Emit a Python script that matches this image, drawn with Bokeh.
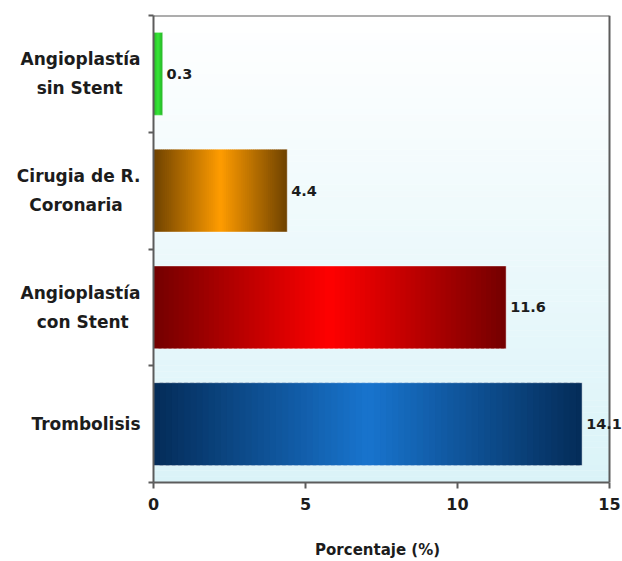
from bokeh.plotting import figure
from bokeh.models import Range1d, FixedTicker, LinearAxis, LabelSet, ColumnDataSource
from bokeh.core.properties import value
from bokeh.embed import file_html
from bokeh.resources import INLINE

# Data (bottom to top)
categories = ["Trombolisis", "Angioplastía\ncon Stent", "Cirugia de R.\nCoronaria", "Angioplastía\nsin Stent"]
values = [14.1, 11.6, 4.4, 0.3]
value_labels = ["14.1", "11.6", "4.4", "0.3"]
x_ticks = [0, 5, 10, 15]
x_max = 15
x_title = "Porcentaje (%)"

# Colour of each bar: (edge colour, centre colour) of its horizontal shading
bar_edge = [(4, 44, 88), (115, 0, 0), (110, 66, 0), (0, 170, 0)]
bar_centre = [(24, 116, 206), (255, 0, 0), (255, 156, 0), (20, 225, 20)]

# Non-breaking spaces appended to the second line of each name so the
# right-aligned axis labels read as centred lines
second_line_pad = [0, 2, 3, 3]
# Non-breaking spaces after the x title, pulling it back under the chart box
title_pad = 4

FONT = "DejaVu Sans"
TEXT = "#1c1c1c"
FRAME = "#5c5c5c"
NBSP = "\u00a0"


def mix(a, b, t):
    return "#%02x%02x%02x" % tuple(int(round(a[k] + (b[k] - a[k]) * t)) for k in range(3))


def centred(name, pad):
    lines = name.split("\n")
    if len(lines) > 1:
        lines[-1] = lines[-1] + NBSP * pad
    return "\n".join(lines)


n_cat = len(categories)
y_pos = [i + 0.5 for i in range(n_cat)]

# The frame runs a little past x_max so the last value label has room;
# the visible chart box (shading + border) stops at x_max.
px_per_unit = 456 / x_max
left_px, right_px = 153, 0
x_end = (622 - left_px - right_px) / px_per_unit

p = figure(width=622, height=561,
           x_range=Range1d(0, x_end), y_range=Range1d(0, n_cat),
           output_backend="svg", toolbar_location=None,
           min_border_left=left_px, min_border_right=right_px,
           min_border_top=15, min_border_bottom=78)

p.background_fill_color = "white"
p.border_fill_color = "white"
p.outline_line_color = None
p.xgrid.visible = False
p.ygrid.visible = False

# Plot-area shading: white at the top fading to pale cyan at the bottom
n_bg = 80
top_c = (255, 255, 255)
bot_c = (218, 243, 248)
bg_bottom, bg_top, bg_col = [], [], []
for k in range(n_bg):
    bg_bottom.append(n_cat * k / n_bg)
    bg_top.append(min(n_cat * (k + 1.05) / n_bg, n_cat))
    bg_col.append(mix(bot_c, top_c, (k + 0.5) / n_bg))
p.quad(left=0, right=x_max, bottom=bg_bottom, top=bg_top, fill_color=bg_col, line_color=None)

# Top and right edges of the chart box
p.segment(x0=[0, x_max], y0=[n_cat, 0], x1=[x_max, x_max], y1=[n_cat, n_cat],
          line_color=FRAME, line_width=2)

# Bars drawn as thin slices so that each one is dark at both ends and bright in the middle
n_sl = 70
bar_h = 0.71
sl_left, sl_right, sl_y, sl_col = [], [], [], []
for v, y, e, c in zip(values, y_pos, bar_edge, bar_centre):
    for k in range(n_sl):
        t = (k + 0.5) / n_sl
        sl_left.append(v * k / n_sl)
        sl_right.append(min(v * (k + 1.6) / n_sl, v))
        sl_y.append(y)
        sl_col.append(mix(e, c, 1 - abs(2 * t - 1)))
p.hbar(y=sl_y, left=sl_left, right=sl_right, height=bar_h, fill_color=sl_col, line_color=None)
p.hbar(y=y_pos, left=0, right=values, height=bar_h, fill_color=None,
       line_color="white", line_alpha=0.45, line_width=1)

# Value labels to the right of each bar
src = ColumnDataSource(dict(x=values, y=y_pos, t=value_labels))
p.add_layout(LabelSet(x="x", y="y", text="t", source=src, x_offset=4,
                      text_baseline="middle", text_font=value(FONT),
                      text_font_style="bold", text_font_size=value("14.5px"),
                      text_color=TEXT))

# X axis
p.xaxis.ticker = FixedTicker(ticks=x_ticks)
p.xaxis.bounds = (0, x_max)
p.xaxis.minor_tick_line_color = None
p.xaxis.major_tick_in = 0
p.xaxis.major_tick_out = 6
p.xaxis.axis_line_color = FRAME
p.xaxis.axis_line_width = 2
p.xaxis.major_tick_line_color = FRAME
p.xaxis.major_tick_line_width = 2
p.xaxis.major_label_standoff = 9
p.xaxis.major_label_text_font = FONT
p.xaxis.major_label_text_font_style = "bold"
p.xaxis.major_label_text_font_size = "16px"
p.xaxis.major_label_text_color = TEXT
p.xaxis.axis_label = x_title + NBSP * title_pad
p.xaxis.axis_label_standoff = 28
p.xaxis.axis_label_text_font = FONT
p.xaxis.axis_label_text_font_style = "bold"
p.xaxis.axis_label_text_font_size = "15px"
p.xaxis.axis_label_text_color = TEXT

# Y axis: ticks on the category boundaries
p.yaxis.ticker = FixedTicker(ticks=list(range(n_cat + 1)))
p.yaxis.minor_tick_line_color = None
p.yaxis.major_tick_in = 0
p.yaxis.major_tick_out = 5
p.yaxis.axis_line_color = FRAME
p.yaxis.axis_line_width = 2
p.yaxis.major_tick_line_color = FRAME
p.yaxis.major_tick_line_width = 2
p.yaxis.major_label_standoff = 0
p.yaxis.major_label_text_font_size = "0px"
p.yaxis.major_label_text_color = None

# Category names, one per bar centre
cat_axis = LinearAxis(ticker=FixedTicker(ticks=y_pos),
                      major_label_overrides={y: centred(name, pad) for y, name, pad
                                             in zip(y_pos, categories, second_line_pad)},
                      axis_line_color=None, major_tick_line_color=None,
                      minor_tick_line_color=None, major_tick_in=0, major_tick_out=0,
                      major_label_standoff=8,
                      major_label_text_font=FONT, major_label_text_font_style="bold",
                      major_label_text_font_size="17px", major_label_text_color=TEXT,
                      major_label_text_line_height=1.45)
p.add_layout(cat_axis, "left")

open("out.html", "w").write(file_html(p, INLINE))
